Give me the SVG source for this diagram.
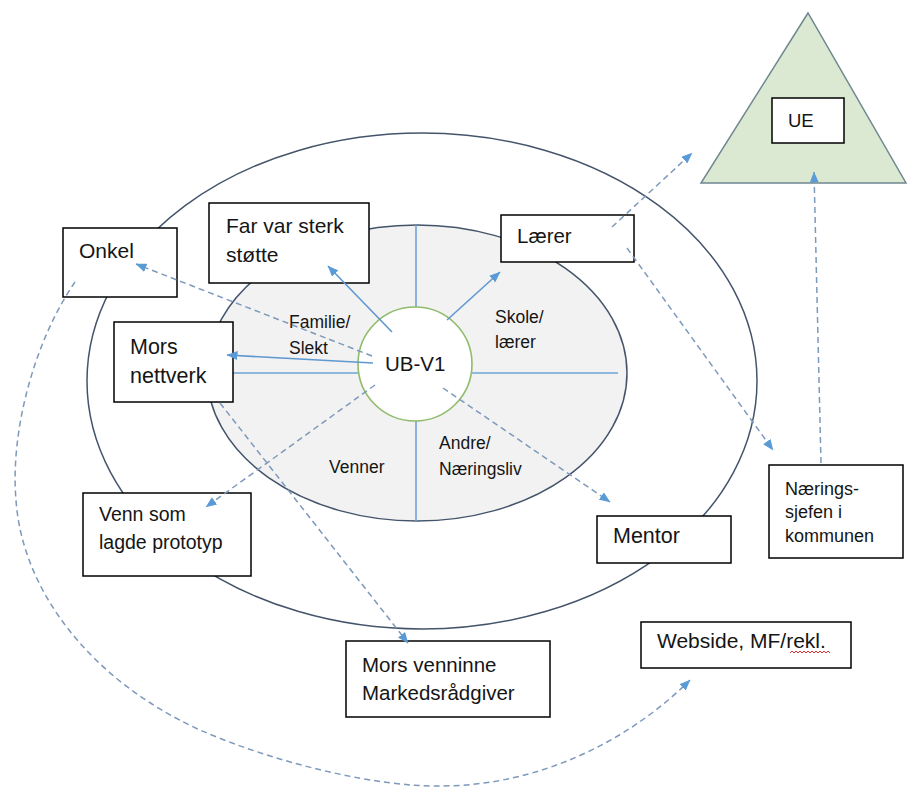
<svg xmlns="http://www.w3.org/2000/svg" width="907" height="788" viewBox="0 0 907 788">
<style>
text{font-family:"Liberation Sans",Arial,sans-serif;fill:#151515}
.box{fill:#fff;stroke:#000;stroke-width:1.5}
.ring{fill:none;stroke:#44546a;stroke-width:1.5}
.div{stroke:#6fa3d6;stroke-width:1.6;fill:none}
.sol{stroke:#5f97cf;stroke-width:1.6;fill:none;marker-end:url(#ah)}
.dash{stroke:#7d99bb;stroke-width:1.5;fill:none;stroke-dasharray:6 4;marker-end:url(#ah)}
.t21{font-size:21px}
.t18{font-size:17.5px}
</style>
<defs>
<marker id="ah" viewBox="0 0 11 9" refX="10.5" refY="4.5" markerWidth="11" markerHeight="9" markerUnits="userSpaceOnUse" orient="auto">
<path d="M0,0 L11,4.5 L0,9 z" fill="#5b9bd5"/>
</marker>
</defs>
<rect width="907" height="788" fill="#fff"/>
<g id="rings">
<ellipse class="ring" cx="422" cy="381" rx="335" ry="248"/>
<ellipse cx="417" cy="373" rx="210" ry="148" fill="#f2f2f2" stroke="#44546a" stroke-width="1.5"/>
<line class="div" x1="208" y1="373" x2="618" y2="373"/>
<line class="div" x1="416" y1="225" x2="416" y2="521"/>
</g>
<g id="triangle-UE">
<polygon points="808,13 701,183 906,183" fill="#dbe9d3" stroke="#6f8790" stroke-width="1.5"/>
<rect class="box" x="772" y="98" width="72" height="45"/>
<text x="788" y="127" font-size="18.5px">UE</text>
</g>
<g id="center">
<circle cx="415" cy="364" r="57" fill="#fff" stroke="#8fbc6a" stroke-width="1.6"/>
<text x="385" y="371" font-size="20.5px">UB-V1</text>
</g>
<g id="sector-labels" class="t18">
<text x="289" y="328">Familie/</text>
<text x="289" y="354">Slekt</text>
<text x="495" y="323">Skole/</text>
<text x="495" y="348">lærer</text>
<text x="329" y="473">Venner</text>
<text x="439" y="449">Andre/</text>
<text x="439" y="475">Næringsliv</text>
</g>
<g id="node-onkel">
<rect class="box" x="63" y="228" width="114" height="69"/>
<text class="t21" x="79" y="258">Onkel</text>
</g>
<g id="node-far">
<rect class="box" x="209" y="203" width="160" height="80"/>
<text class="t21" x="226" y="233">Far var sterk</text>
<text class="t21" x="226" y="262">støtte</text>
</g>
<g id="node-mors-nettverk">
<rect class="box" x="114" y="322" width="119" height="80"/>
<text x="130" y="354" font-size="21.5px">Mors</text>
<text x="130" y="383" font-size="21.5px">nettverk</text>
</g>
<g id="node-laerer">
<rect class="box" x="501" y="215" width="133" height="47"/>
<text x="517" y="243" font-size="20.5px">Lærer</text>
</g>
<g id="node-venn">
<rect class="box" x="83" y="493" width="168" height="83"/>
<text x="99" y="521" font-size="19.5px">Venn som</text>
<text x="99" y="549" font-size="19.5px">lagde prototyp</text>
</g>
<g id="node-mentor">
<rect class="box" x="597" y="516" width="134" height="47"/>
<text x="613" y="543" font-size="21.5px">Mentor</text>
</g>
<g id="node-naeringssjefen">
<rect class="box" x="769" y="465" width="134" height="93"/>
<text x="785" y="495" font-size="18px">Nærings-</text>
<text x="785" y="518" font-size="18px">sjefen i</text>
<text x="785" y="542" font-size="18px">kommunen</text>
</g>
<g id="node-mors-venninne">
<rect class="box" x="346" y="641" width="204" height="76"/>
<text x="362" y="672" font-size="20.5px">Mors venninne</text>
<text x="362" y="700" font-size="20.5px">Markedsrådgiver</text>
</g>
<g id="node-webside">
<rect class="box" x="641" y="622" width="210" height="46"/>
<text x="657" y="648" font-size="21px">Webside, MF/rekl.</text>
<path d="M790,653 l2,-2 l2,2 l2,-2 l2,2 l2,-2 l2,2 l2,-2 l2,2 l2,-2 l2,2 l2,-2 l2,2 l2,-2 l2,2 l2,-2 l2,2 l2,-2 l2,2 l2,-2 l2,2" fill="none" stroke="#e03030" stroke-width="1"/>
</g>
<g id="connectors">
<line class="sol" x1="392" y1="332" x2="328" y2="266"/>
<line class="sol" x1="373" y1="363" x2="227" y2="355"/>
<line class="sol" x1="447" y1="320" x2="500" y2="272"/>
<line class="dash" x1="372" y1="356" x2="136" y2="264"/>
<line class="dash" x1="375" y1="385" x2="206" y2="507"/>
<line class="dash" x1="443" y1="388" x2="610" y2="502"/>
<line class="dash" x1="220" y1="403" x2="408" y2="643"/>
<line class="dash" x1="612" y1="227" x2="692" y2="153"/>
<line class="dash" x1="627" y1="248" x2="773" y2="450"/>
<line class="dash" x1="821" y1="463" x2="814" y2="172"/>
<path class="dash" d="M75,282 C35,340 10,430 16,500 C22,590 90,680 200,730 C280,765 380,787 440,786 C540,786 630,740 690,680"/>
</g>
</svg>
